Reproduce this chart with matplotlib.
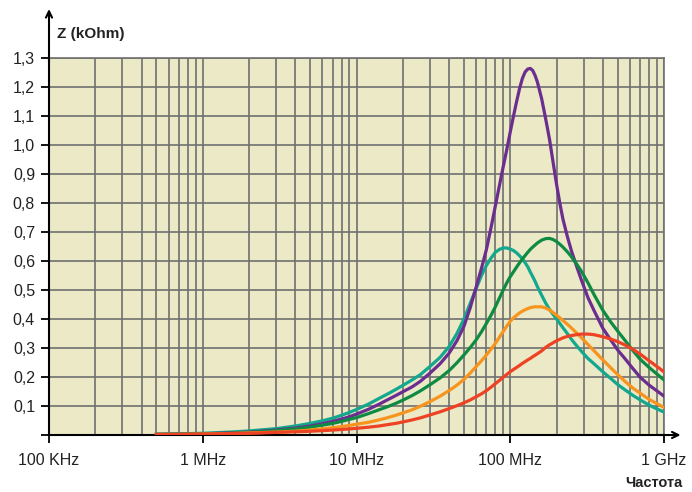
import numpy as np
import matplotlib
matplotlib.use('Agg')
import matplotlib.pyplot as plt
from matplotlib.ticker import LogLocator, NullFormatter

plt.rcParams['font.family'] = ['Liberation Sans', 'DejaVu Sans']

# frequency in MHz, impedance in kOhm
freq = [0.5, 0.7, 1, 1.5, 2, 3, 4, 5, 6, 7, 8, 9, 10, 12, 14, 16, 18, 20, 23, 26, 30, 35,
        40, 45, 50, 55, 60, 65, 70, 75, 80, 85, 90, 95, 100, 105, 110, 115, 120, 125, 130,
        135, 140, 145, 150, 160, 170, 180, 190, 200, 210, 220, 235, 250, 270, 290, 320,
        350, 400, 450, 500, 560, 630, 700, 800, 900, 1000]

teal = [0.003, 0.004, 0.006, 0.010, 0.014, 0.022, 0.031, 0.040, 0.049, 0.058, 0.068,
        0.078, 0.088, 0.107, 0.126, 0.142, 0.157, 0.171, 0.19, 0.208, 0.236, 0.268, 0.305,
        0.35, 0.40, 0.455, 0.505, 0.55, 0.585, 0.61, 0.63, 0.64, 0.645, 0.645, 0.641, 0.636,
        0.628, 0.618, 0.607, 0.594, 0.58, 0.562, 0.546, 0.53, 0.512, 0.482, 0.455, 0.433,
        0.416, 0.40, 0.385, 0.37, 0.35, 0.33, 0.308, 0.289, 0.264, 0.246, 0.218, 0.195,
        0.174, 0.155, 0.136, 0.121, 0.103, 0.09, 0.079]

purple = [0.002, 0.003, 0.004, 0.007, 0.010, 0.017, 0.024, 0.031, 0.039, 0.047, 0.055,
          0.063, 0.072, 0.089, 0.106, 0.122, 0.136, 0.149, 0.166, 0.185, 0.213, 0.246,
          0.282, 0.325, 0.375, 0.44, 0.51, 0.575, 0.64, 0.715, 0.79, 0.86, 0.925, 0.985,
          1.045, 1.10, 1.15, 1.195, 1.23, 1.252, 1.262, 1.264, 1.257, 1.24, 1.218, 1.16,
          1.09, 1.02, 0.94, 0.865, 0.80, 0.745, 0.685, 0.635, 0.582, 0.535, 0.474, 0.43,
          0.368, 0.328, 0.293, 0.262, 0.228, 0.199, 0.172, 0.152, 0.134]

green = [0.002, 0.003, 0.004, 0.006, 0.009, 0.015, 0.021, 0.027, 0.034, 0.040, 0.047,
         0.054, 0.060, 0.074, 0.087, 0.098, 0.109, 0.12, 0.136, 0.152, 0.173, 0.197, 0.222,
         0.249, 0.276, 0.302, 0.328, 0.356, 0.385, 0.413, 0.442, 0.472, 0.50, 0.525, 0.546,
         0.563, 0.579, 0.594, 0.607, 0.619, 0.63, 0.64, 0.648, 0.655, 0.662, 0.672, 0.677,
         0.678, 0.674, 0.667, 0.658, 0.648, 0.632, 0.615, 0.59, 0.565, 0.525, 0.485, 0.43,
         0.39, 0.358, 0.325, 0.29, 0.261, 0.233, 0.21, 0.19]

orange = [0.002, 0.002, 0.003, 0.005, 0.007, 0.010, 0.013, 0.017, 0.021, 0.025, 0.029,
          0.033, 0.037, 0.044, 0.052, 0.06, 0.068, 0.076, 0.087, 0.099, 0.115, 0.134, 0.153,
          0.172, 0.192, 0.214, 0.236, 0.256, 0.276, 0.296, 0.316, 0.337, 0.357, 0.376, 0.392,
          0.404, 0.413, 0.421, 0.427, 0.432, 0.436, 0.439, 0.441, 0.442, 0.442, 0.442, 0.438,
          0.431, 0.422, 0.413, 0.404, 0.395, 0.382, 0.369, 0.352, 0.336, 0.312, 0.291, 0.259,
          0.232, 0.208, 0.184, 0.161, 0.144, 0.123, 0.108, 0.095]

red = [0.002, 0.002, 0.003, 0.005, 0.006, 0.009, 0.011, 0.013, 0.015, 0.017, 0.019, 0.021,
       0.023, 0.027, 0.031, 0.036, 0.04, 0.045, 0.052, 0.059, 0.069, 0.08, 0.091, 0.101,
       0.111, 0.121, 0.132, 0.142, 0.153, 0.165, 0.177, 0.188, 0.199, 0.209, 0.218, 0.226,
       0.233, 0.24, 0.247, 0.253, 0.259, 0.264, 0.27, 0.275, 0.28, 0.29, 0.302, 0.311,
       0.318, 0.325, 0.33, 0.335, 0.34, 0.343, 0.346, 0.348, 0.348, 0.346, 0.339, 0.331,
       0.322, 0.31, 0.295, 0.279, 0.256, 0.236, 0.218]

x_ticks = [1e5, 1e6, 1e7, 1e8, 1e9]
x_labels = ['100 KHz', '1 MHz', '10 MHz', '100 MHz', '1 GHz']
y_ticks = [i / 10 for i in range(14)]
y_labels = [''] + [('%.1f' % v).replace('.', ',') for v in y_ticks[1:]]

series = [
    (teal, '#13a88e'),
    (purple, '#6b2d8f'),
    (green, '#0f8a43'),
    (orange, '#f7941d'),
    (red, '#ee4224'),
]

grid_col = '#707070'
text_col = '#222222'

fig = plt.figure(figsize=(6.92, 4.92), dpi=100)
ax = fig.add_axes([49 / 692, 57 / 492, 615 / 692, 377 / 492])
ax.set_facecolor('#ebe9c6')
ax.set_xscale('log')
ax.set_xlim(1e5, 1e9)
ax.set_ylim(0, 1.3)

ax.set_xticks(x_ticks)
ax.set_xticklabels(x_labels)
ax.xaxis.set_minor_locator(LogLocator(base=10, subs=np.arange(2, 10)))
ax.xaxis.set_minor_formatter(NullFormatter())
ax.set_yticks(y_ticks)
ax.set_yticklabels(y_labels)

ax.grid(which='both', axis='x', color=grid_col, lw=1.2)
ax.grid(which='major', axis='y', color=grid_col, lw=1.2)
ax.set_axisbelow(True)

ax.tick_params(axis='x', which='minor', length=0)
ax.tick_params(axis='x', which='major', direction='out', length=6, width=1.3,
               pad=7, labelsize=11.5, labelcolor=text_col)
ax.tick_params(axis='y', direction='out', length=6, width=1.3, pad=4,
               labelsize=11.5, labelcolor=text_col)

for s in ['top', 'right']:
    ax.spines[s].set_color(grid_col)
    ax.spines[s].set_linewidth(1.2)
for s in ['left', 'bottom']:
    ax.spines[s].set_color('black')
    ax.spines[s].set_linewidth(1.5)

f_hz = np.array(freq) * 1e6
for z, c in series:
    ax.plot(f_hz, z, color=c, lw=2.3, solid_joinstyle='round', zorder=3)

arrow = dict(arrowstyle='->,head_length=0.45,head_width=0.22', color='black', lw=1.5,
             shrinkA=0, shrinkB=0)
ax.annotate('', xy=(0, 1.13), xytext=(0, 0.99), xycoords='axes fraction', arrowprops=arrow,
            annotation_clip=False)
ax.annotate('', xy=(1.027, 0), xytext=(0.99, 0), xycoords='axes fraction', arrowprops=arrow,
            annotation_clip=False)

fig.text(57 / 692, 1 - 38 / 492, 'Z (kOhm)', fontsize=11, fontweight='bold',
         va='baseline', ha='left', color=text_col)
fig.text(683 / 692, 1 - 487 / 492, 'Частота', fontsize=10.5, fontweight='bold',
         va='baseline', ha='right', color=text_col)

fig.savefig('out.png', dpi=100)
